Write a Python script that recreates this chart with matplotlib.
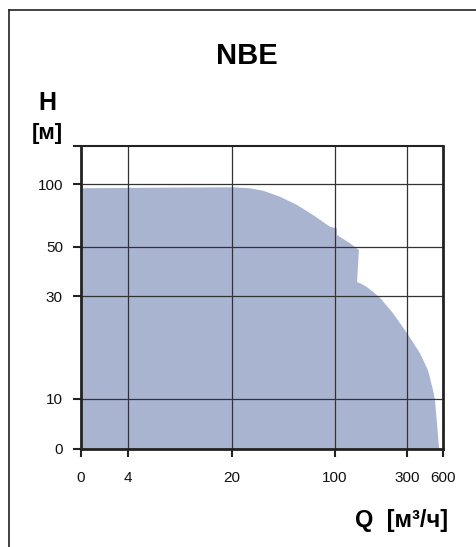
import numpy as np
import matplotlib
matplotlib.use('Agg')
import matplotlib.pyplot as plt
from matplotlib.lines import Line2D

# --- DATA ---
TITLE = 'NBE'
X_TICKS = [0, 4, 20, 100, 300, 600]
X_TICK_LABELS = ['0', '4', '20', '100', '300', '600']
Y_TICKS = [0, 10, 30, 50, 100, 150]
Y_TICK_LABELS = ['0', '10', '30', '50', '100', '']
X_GRID = [4, 20, 100, 300]
Y_GRID = [10, 30, 50, 100]

# envelope of the NBE range (Q in m3/h, H in m)
ENV_Q = [0, 4, 20, 26.5, 32.5, 42.3, 55.2, 70.9, 92.5, 100, 103, 103, 126,
         144, 140, 150, 163, 180, 199, 242, 300, 385, 449, 495, 514, 534,
         555, 558]
ENV_H = [95.4, 95.8, 96.5, 95.4, 92.9, 87, 79.4, 71.1, 62.5, 61.6, 61.3,
         57.1, 52, 48.5, 34.7, 34, 32.9, 31.2, 29.4, 25, 20.2, 16.3, 13.6,
         11, 9.8, 5.2, 0.4, 0]

# --- chart paper scales (piecewise: linear near zero, log above) ---
XS_VAL = np.array([4, 20, 100, 300, 600], float)
XS_POS = np.array([47, 151, 254, 326, 362], float)
YS_VAL = np.array([10, 30, 50, 100, 150], float)
YS_POS = np.array([50, 153, 202, 265, 303], float)


def make_scale(vals, pos):
    lv = np.log10(vals)

    def fwd(v):
        v = np.asarray(v, float)
        lin = v / vals[0] * pos[0]
        lg = np.interp(np.log10(np.clip(v, vals[0], None)), lv, pos)
        return np.where(v < vals[0], lin, lg)

    def inv(p):
        p = np.asarray(p, float)
        lin = p / pos[0] * vals[0]
        lg = 10 ** np.interp(p, pos, lv)
        return np.where(p < pos[0], lin, lg)

    return fwd, inv


W, H = 477, 547
fig = plt.figure(figsize=(W / 100, H / 100), dpi=100)
plt.rcParams['font.family'] = ['Liberation Sans', 'DejaVu Sans']

ax = fig.add_axes([81 / W, 1 - 449 / H, (443 - 81) / W, (449 - 146) / H])
ax.set_xscale('function', functions=make_scale(XS_VAL, XS_POS))
ax.set_yscale('function', functions=make_scale(YS_VAL, YS_POS))
ax.set_xlim(0, 600)
ax.set_ylim(0, 150)

ax.fill(ENV_Q + [0], ENV_H + [0], color='#a9b5d0', lw=0, zorder=1)

for q in X_GRID:
    ax.axvline(q, color='#333333', lw=0.9, zorder=2)
for h in Y_GRID:
    ax.axhline(h, color='#333333', lw=0.9, zorder=2)

ax.set_xticks(X_TICKS)
ax.set_xticklabels(X_TICK_LABELS)
ax.set_yticks(Y_TICKS)
ax.set_yticklabels(Y_TICK_LABELS)
ax.minorticks_off()
ax.tick_params(axis='both', length=6, width=1.5, color='#222222',
               labelsize=11, labelcolor='#111111')
ax.tick_params(axis='x', pad=10)
ax.tick_params(axis='y', pad=7)

for side in ['left', 'bottom', 'right']:
    ax.spines[side].set_linewidth(2)
    ax.spines[side].set_color('#222222')
ax.spines['top'].set_linewidth(1.5)
ax.spines['top'].set_color('#222222')

# labels
fig.text(247 / W, 1 - 56 / H, TITLE, ha='center', va='center',
         fontsize=21, fontweight='bold')
fig.text(47 / W, 1 - 103 / H, 'H', ha='center', va='center',
         fontsize=18, fontweight='bold')
fig.text(47 / W, 1 - 133 / H, '[м]', ha='center', va='center',
         fontsize=16, fontweight='bold')
fig.text(448 / W, 1 - 520 / H, 'Q  [м³/ч]', ha='right', va='center',
         fontsize=17, fontweight='bold')

# outer frame
fig.add_artist(Line2D([9 / W, 1], [1 - 10 / H, 1 - 10 / H], color='#222222', lw=1.2))
fig.add_artist(Line2D([9 / W, 9 / W], [1 - 10 / H, 0], color='#222222', lw=1.2))

fig.savefig('out.png', dpi=100)
